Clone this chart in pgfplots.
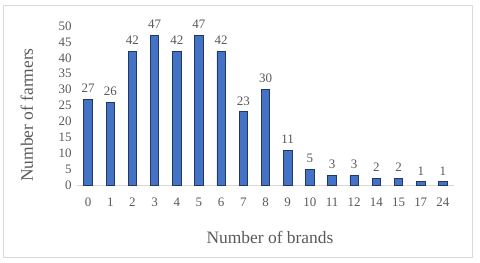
\documentclass[border=0pt]{standalone}
\usepackage{pgfplots}
\pgfplotsset{compat=1.18}
\usepackage{fontspec}
\setmainfont{Liberation Serif}
\definecolor{barfill}{HTML}{4472C4}
\definecolor{baredge}{HTML}{203864}
\definecolor{txtgray}{HTML}{595959}
\definecolor{axgray}{HTML}{D9D9D9}
\begin{document}
\begin{tikzpicture}
\useasboundingbox (0,0) rectangle (480bp,263bp);
\draw[color=axgray, line width=0.8pt] (3bp,6bp) rectangle (472bp,258bp);
\begin{axis}[
  at={(77bp,78bp)}, anchor=south west,
  scale only axis, width=377bp, height=159bp,
  ybar, bar width=8.5bp,
  xmin=-0.5, xmax=16.5, ymin=0, ymax=50,
  ytick={0,5,...,50},
  xtick={0,...,16},
  xticklabels={0,1,2,3,4,5,6,7,8,9,10,11,12,14,15,17,24},
  /pgf/number format/assume math mode=true,
  tick style={draw=none},
  axis x line*=bottom, axis y line*=left,
  x axis line style={draw=axgray, line width=0.8pt},
  y axis line style={draw=none},
  ticklabel style={font=\fontsize{13}{15}\selectfont, text=txtgray},
  xticklabel style={yshift=-5bp},
  yticklabel style={xshift=-2bp},
  xlabel={Number of brands}, ylabel={Number of farmers},
  label style={font=\fontsize{17.5}{20}\selectfont, text=txtgray},
  xlabel style={at={(axis description cs:0.512,-0.327)}, anchor=center},
  ylabel style={at={(axis description cs:-0.133,0.44)}, anchor=center, rotate=0},
  nodes near coords,
  nodes near coords style={font=\fontsize{13}{15}\selectfont, text=txtgray, yshift=3bp},
  clip=false,
]
\addplot[fill=barfill, draw=baredge, line width=0.8pt] coordinates {
(0,27) (1,26) (2,42) (3,47) (4,42) (5,47) (6,42) (7,23) (8,30) (9,11)
(10,5) (11,3) (12,3) (13,2) (14,2) (15,1) (16,1)};
\end{axis}
\end{tikzpicture}
\end{document}
